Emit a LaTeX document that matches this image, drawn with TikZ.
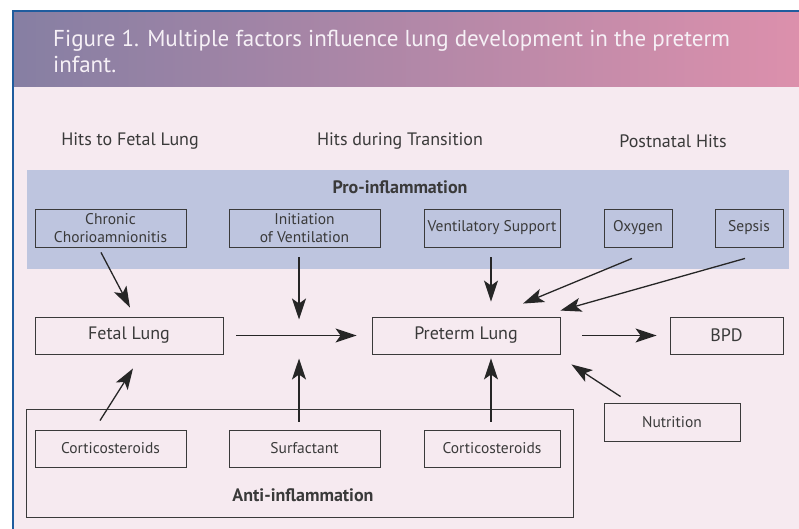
\documentclass[tikz,border=0pt]{standalone}
\usepackage{fontspec}
\setmainfont{PT Sans}
\usepackage{xcolor}
\usetikzlibrary{arrows.meta}
\definecolor{frameblue}{HTML}{1F5C9E}
\definecolor{headleft}{HTML}{867FA3}
\definecolor{headright}{HTML}{DC90AC}
\definecolor{bodypink}{HTML}{F6EAF0}
\definecolor{bandblue}{HTML}{BEC5DF}
\definecolor{ink}{HTML}{3A3A3A}
\definecolor{titlewhite}{HTML}{F6F0F6}

\begin{document}
\begin{tikzpicture}[x=1pt, y=-1pt,
    box/.style={draw=ink, line width=0.9pt, minimum height=38pt, inner sep=0pt,
      align=center, text=ink, font=\fontsize{15.5}{17.5}\selectfont},
    bigbox/.style={box, minimum height=37pt, font=\fontsize{18}{20}\selectfont},
    arr/.style={draw=black!85, line width=1.3pt,
      -{Stealth[length=21pt,width=14pt,inset=5pt]}},
    heading/.style={text=ink, font=\fontsize{18}{20}\selectfont},
    group/.style={text=ink, font=\bfseries\fontsize{18}{20}\selectfont},
    title/.style={anchor=base west, inner sep=0pt, text=titlewhite,
      font=\fontsize{23}{26}\selectfont}]
  \useasboundingbox (0,0) rectangle (799,529);
  % frame and header
  \fill[white] (0,0) rectangle (799,529);
  \fill[bodypink] (13,11) rectangle (799,529);
  \shade[left color=headleft, right color=headright] (13,11) rectangle (799,87);
  \draw[frameblue, line width=2pt] (13,529) -- (13,11) -- (799,11);
  \node[title] (title1) at (53,47)
    {Figure 1. Multiple factors influence lung development in the preterm};
  \node[title] (title2) at (53,73) {infant.};

  % column headings
  \node[heading] (hitsfetal) at (130,141) {Hits to Fetal Lung};
  \node[heading] (hitstrans) at (400,141) {Hits during Transition};
  \node[heading] (hitspost) at (673,141) {Postnatal Hits};

  % pro-inflammation band
  \fill[bandblue] (27,170) rectangle (789,269);
  \node[group] (pro) at (400,187) {Pro-inflammation};
  \node[box, minimum width=151pt] (chorio) at (110.5,228) {Chronic\\Chorioamnionitis};
  \node[box, minimum width=151pt] (init) at (304.5,228) {Initiation\\of Ventilation};
  \node[box, minimum width=136pt] (vent) at (492,228) {Ventilatory Support};
  \node[box, minimum width=68pt] (oxy) at (638,228) {Oxygen};
  \node[box, minimum width=68pt] (sepsis) at (749,228) {Sepsis};

  % main row
  \node[bigbox, minimum width=188pt] (fetal) at (129,335.5) {Fetal Lung};
  \node[bigbox, minimum width=188pt] (preterm) at (466,335.5) {Preterm Lung};
  \node[bigbox, minimum width=113pt] (bpd) at (726.5,335.5) {BPD};
  \coordinate (junction) at (299,335.5);

  % anti-inflammation group
  \draw[ink, line width=0.9pt] (26,409) rectangle (573,517);
  \node[group] (anti) at (303,495) {Anti-inflammation};
  \node[box, minimum height=37pt, minimum width=151pt] (cortifetal) at (110.5,448.5) {Corticosteroids};
  \node[box, minimum height=37pt, minimum width=151pt] (surf) at (304.5,448.5) {Surfactant};
  \node[box, minimum height=37pt, minimum width=136pt] (cortipre) at (492,448.5) {Corticosteroids};
  \node[box, minimum width=136pt] (nutri) at (672,422) {Nutrition};

  % hits
  \draw[arr] ([xshift=-9.5pt, yshift=-5pt]chorio.south) -- ([xshift=1pt, yshift=9pt]fetal.north);
  \draw[arr, shorten >=16pt] ([xshift=-5.5pt, yshift=-10pt]init.south) -- (junction);
  \draw[arr] ([xshift=-1pt, yshift=-10pt]vent.south) -- ([xshift=25pt, yshift=15pt]preterm.north);
  \draw[arr] ([xshift=-6pt, yshift=-11pt]oxy.south) -- ([xshift=57pt, yshift=13pt]preterm.north);
  \draw[arr] ([xshift=-4pt, yshift=-11pt]sepsis.south) -- ([yshift=6pt]preterm.north east);
  \draw[arr, shorten <=13pt, shorten >=15pt] (fetal.east) -- (preterm.west);
  \draw[arr, shorten <=22pt, shorten >=13pt] (preterm.east) -- (bpd.west);
  % protection
  \draw[arr] ([xshift=-10.5pt, yshift=9pt]cortifetal.north) -- ([xshift=4pt, yshift=-14pt]fetal.south);
  \draw[arr, shorten >=23pt] ([xshift=-5.5pt, yshift=8pt]surf.north) -- (junction);
  \draw[arr] ([xshift=-1pt, yshift=8pt]cortipre.north) -- ([xshift=25pt, yshift=-4pt]preterm.south);
  \draw[arr] ([xshift=17pt, yshift=6pt]nutri.north west) -- ([xshift=11pt, yshift=-10pt]preterm.south east);
\end{tikzpicture}
\end{document}
